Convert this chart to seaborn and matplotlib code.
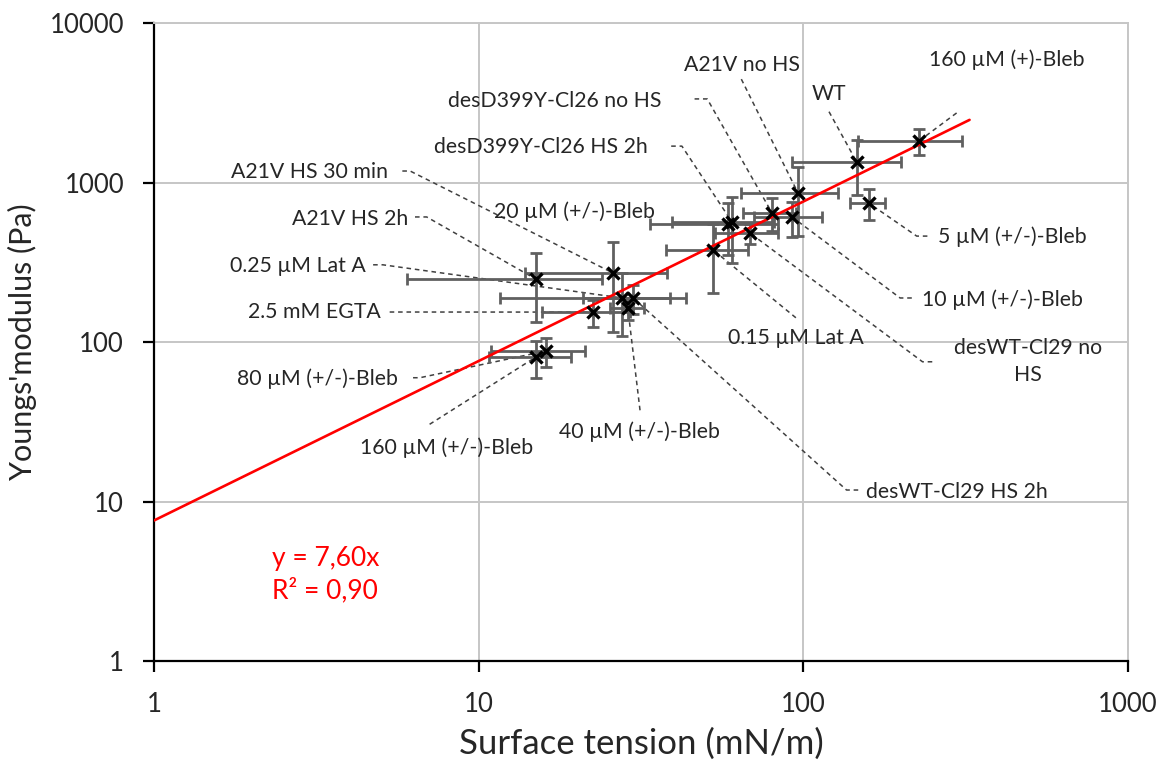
import numpy as np
import pandas as pd
import matplotlib
matplotlib.use("Agg")
import matplotlib.pyplot as plt
from matplotlib.ticker import FixedLocator, FuncFormatter, NullLocator
import seaborn as sns

# ---------------- data ----------------
labels = [
    "160 µM (+)-Bleb", "WT", "A21V no HS", "desD399Y-Cl26 no HS",
    "desD399Y-Cl26 HS 2h", "A21V HS 30 min", "A21V HS 2h", "20 µM (+/-)-Bleb",
    "0.25 µM Lat A", "2.5 mM EGTA", "80 µM (+/-)-Bleb", "160 µM (+/-)-Bleb",
    "40 µM (+/-)-Bleb", "desWT-Cl29 HS 2h", "desWT-Cl29 no\nHS", "0.15 µM Lat A",
    "10 µM (+/-)-Bleb", "5 µM (+/-)-Bleb",
]
tension = [227, 146, 96.3, 80.1, 60.3, 25.9, 15.0, 58.6, 27.6, 22.5, 16.1, 15.0,
           28.8, 29.9, 68.5, 52.7, 92.3, 159]
modulus = [1820, 1345, 859, 644, 565, 271, 248, 549, 189, 154, 87.8, 80.5,
           163, 189, 482, 378, 608, 743]
tension_err = [80, 54, 32, 15, 21, 12, 9, 25, 16, 6.8, 5.2, 4.2, 3.5, 9, 15, 15, 22, 19.5]
modulus_err = [330, 510, 400, 150, 250, 155, 115, 200, 80, 30, 18, 21, 25, 40, 70, 175, 150, 164]

fit_slope = 7.60
fit_r2 = 0.90
fit_range = [1, 325]

x_ticks = [1, 10, 100, 1000]
y_ticks = [1, 10, 100, 1000, 10000]

# ---------------- layout (axes fraction) ----------------
label_pos = [
    (0.875, 0.942), (0.693, 0.889), (0.604, 0.934), (0.411, 0.878),
    (0.397, 0.806), (0.160, 0.766), (0.201, 0.693), (0.432, 0.704),
    (0.148, 0.619), (0.165, 0.547), (0.168, 0.442), (0.300, 0.335),
    (0.498, 0.359), (0.824, 0.265), (0.897, 0.469), (0.659, 0.506),
    (0.871, 0.567), (0.881, 0.665),
]
# leader path start points (and optional elbow) in axes fraction
leader_path = [
    [(0.824, 0.859)],
    [(0.693, 0.861)],
    [(0.603, 0.912)],
    [(0.555, 0.881), (0.568, 0.881)],
    [(0.531, 0.807), (0.542, 0.807)],
    [(0.255, 0.768), (0.263, 0.768)],
    [(0.268, 0.696), (0.280, 0.696)],
    None,
    [(0.225, 0.621), (0.235, 0.621)],
    [(0.242, 0.547)],
    [(0.266, 0.444), (0.273, 0.444)],
    [(0.283, 0.371)],
    [(0.499, 0.393)],
    [(0.723, 0.268), (0.711, 0.268)],
    [(0.799, 0.469), (0.789, 0.469)],
    [(0.659, 0.538)],
    [(0.778, 0.569), (0.766, 0.569)],
    [(0.794, 0.666), (0.783, 0.666)],
]

df = pd.DataFrame({"tension": tension, "modulus": modulus,
                   "tension_err": tension_err, "modulus_err": modulus_err,
                   "label": labels})
fit_df = pd.DataFrame({"x": fit_range, "y": [fit_slope * v for v in fit_range]})

sns.set_theme(style="white")
plt.rcParams['font.family'] = ['Lato', 'DejaVu Sans']

fig = plt.figure(figsize=(11.68, 7.64), dpi=100)
ax = fig.add_axes([0.1318, 0.1348, 0.834, 0.8351])
ax.set_xscale('log')
ax.set_yscale('log')
ax.set_xlim(1, 1000)
ax.set_ylim(1, 10000)

grid_col = '#c6c6c6'
ax.grid(True, which='major', color=grid_col, lw=1.4)
ax.set_axisbelow(True)
for s in ['top', 'right']:
    ax.spines[s].set_color(grid_col)
    ax.spines[s].set_linewidth(1.4)
for s in ['left', 'bottom']:
    ax.spines[s].set_color('black')
    ax.spines[s].set_linewidth(1.6)

ax.xaxis.set_major_locator(FixedLocator(x_ticks))
ax.yaxis.set_major_locator(FixedLocator(y_ticks))
ax.xaxis.set_minor_locator(NullLocator())
ax.yaxis.set_minor_locator(NullLocator())
fmt = FuncFormatter(lambda v, _: f"{v:g}")
ax.xaxis.set_major_formatter(fmt)
ax.yaxis.set_major_formatter(fmt)
ax.tick_params(axis='both', which='major', direction='out', length=8, width=1.6,
               bottom=True, left=True, labelsize=18.5, colors='black',
               labelcolor='#262626')
ax.tick_params(axis='y', pad=13.5)
ax.tick_params(axis='x', pad=14)

# leader lines
inv = ax.transData.inverted()
def frac_to_data(p):
    return inv.transform(ax.transAxes.transform(p))

for i, path in enumerate(leader_path):
    if path is None:
        continue
    pts = [frac_to_data(p) for p in path] + [(tension[i], modulus[i])]
    xs = [p[0] for p in pts]
    ys = [p[1] for p in pts]
    ax.plot(xs, ys, color='#404040', lw=1.1, ls=(0, (3, 2.5)), zorder=2)

# error bars
ax.errorbar(df["tension"], df["modulus"], xerr=df["tension_err"], yerr=df["modulus_err"],
            fmt='none', ecolor='#606060', elinewidth=2.0, capsize=4.5, capthick=2.0, zorder=3)

# trend line
sns.lineplot(data=fit_df, x="x", y="y", color='#ff0000', lw=1.9, ax=ax, zorder=4)

# markers
sns.scatterplot(data=df, x="tension", y="modulus", marker='x', color='black',
                s=75, linewidth=2.4, ax=ax, zorder=5)

# labels
for i, lab in enumerate(labels):
    fx, fy = label_pos[i]
    ax.text(fx, fy, lab, transform=ax.transAxes, ha='center', va='center',
            fontsize=15.3, color='#262626', zorder=6, linespacing=1.45)

ax.text(0.121, 0.161, f"y = {fit_slope:.2f}x".replace('.', ','), transform=ax.transAxes,
        ha='left', va='center', fontsize=19, color='#ff0000')
ax.text(0.121, 0.110, f"R² = {fit_r2:.2f}".replace('.', ','), transform=ax.transAxes,
        ha='left', va='center', fontsize=19, color='#ff0000')

ax.set_xlabel("Surface tension (mN/m)", fontsize=25, color='#262626', labelpad=8)
ax.set_ylabel("Youngs'modulus (Pa)", fontsize=22, color='#262626')
ax.yaxis.label.set_va('center')
ax.yaxis.set_label_coords(-0.135, 0.5)

fig.savefig("out.png", dpi=100)
